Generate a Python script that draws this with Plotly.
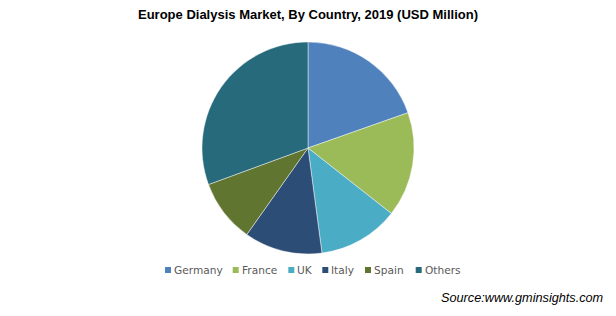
import plotly.graph_objects as go

countries = ["Germany", "France", "UK", "Italy", "Spain", "Others"]
shares = [19.6, 16.0, 12.3, 11.9, 9.6, 30.6]
colors = ["#4F81BD", "#9BBB59", "#4BACC6", "#2C4D75", "#5F7530", "#276A7C"]

W, H = 616, 316
cx, cy, r = 308, 148, 106

# legend layout (pixel positions of each legend key, left edge)
legend_key_x = [165, 232.7, 288.3, 322.3, 365, 415.7]
legend_text_gap = 8
legend_y = 270
key_size = 6

fig = go.Figure(go.Pie(
    labels=countries,
    values=shares,
    sort=False,
    direction="clockwise",
    rotation=0,
    textinfo="none",
    hoverinfo="label+percent",
    showlegend=False,
    marker=dict(colors=colors, line=dict(color="rgba(255,255,255,0.6)", width=0.75)),
    domain=dict(x=[(cx - r) / W, (cx + r) / W], y=[1 - (cy + r) / H, 1 - (cy - r) / H]),
))

shapes = []
annotations = []
for name, col, kx in zip(countries, colors, legend_key_x):
    shapes.append(dict(
        type="rect", xref="paper", yref="paper",
        x0=kx / W, x1=(kx + key_size) / W,
        y0=1 - (legend_y + key_size / 2) / H, y1=1 - (legend_y - key_size / 2) / H,
        fillcolor=col, line=dict(width=0),
    ))
    annotations.append(dict(
        text=name, x=(kx + legend_text_gap) / W, y=1 - legend_y / H,
        xref="paper", yref="paper", xanchor="left", yanchor="middle",
        showarrow=False, borderpad=0,
        font=dict(family="DejaVu Sans", size=10.6, color="#595959"),
    ))

annotations.append(dict(
    text="<i>Source:www.gminsights.com</i>",
    x=604 / W, y=1 - 298 / H, xref="paper", yref="paper",
    xanchor="right", yanchor="middle", showarrow=False, borderpad=0,
    font=dict(family="Liberation Sans, Arial", size=12.7, color="#000000"),
))

fig.update_layout(
    width=W, height=H,
    margin=dict(l=0, r=0, t=0, b=0),
    paper_bgcolor="white",
    plot_bgcolor="white",
    title=dict(
        text="<b>Europe Dialysis Market, By Country, 2019 (USD Million)</b>",
        x=0.5, xanchor="center", y=1 - 14 / H, yanchor="middle",
        font=dict(family="Liberation Sans, Arial", size=13, color="#000000"),
    ),
    showlegend=False,
    shapes=shapes,
    annotations=annotations,
)

fig.write_html("out.html")
